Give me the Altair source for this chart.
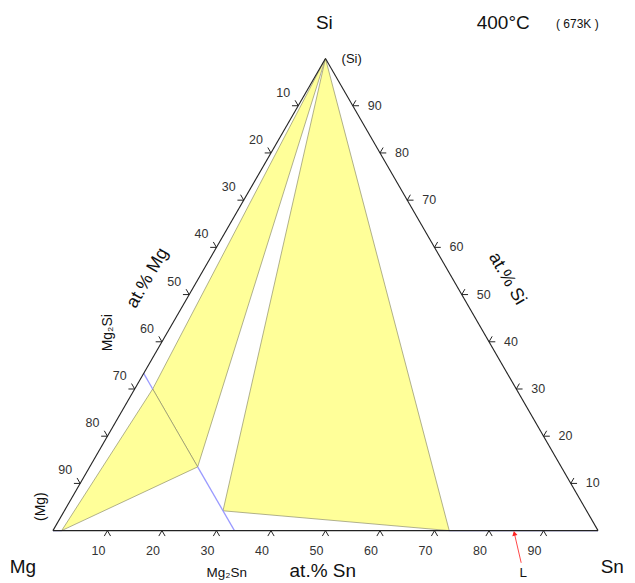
import math
import pandas as pd
import altair as alt

S3 = math.sqrt(3) / 2

def to_xy(sn, si):
    return sn + si / 2.0, si * S3

# ---- phase diagram data (at.% Sn, at.% Si) ----
poly_id = ["T1", "T1", "T1", "T2", "T2", "T2", "T3", "T3", "T3"]
poly_sn = [0.0, 3.3, 19.8, 1.6, 3.3, 19.8, 0.0, 29.1, 72.7]
poly_si = [100.0, 30.0, 13.5, 0.0, 30.0, 13.5, 100.0, 4.2, 0.0]

# single-phase lines (blue): start (sn, si) -> end (sn, si)
blue_sn1 = [0.0, 19.8, 0.0, 72.7]
blue_si1 = [33.3, 13.5, 0.0, 0.0]
blue_sn2 = [3.3, 33.3, 1.6, 100.0]
blue_si2 = [30.0, 0.0, 0.0, 0.0]

# triangle frame
frame_sn1 = [0.0, 0.0, 100.0]
frame_si1 = [0.0, 100.0, 0.0]
frame_sn2 = [0.0, 100.0, 0.0]
frame_si2 = [100.0, 0.0, 0.0]

tick_values = [10, 20, 30, 40, 50, 60, 70, 80, 90]

# ---- build tables ----
rows = []
for i, (p, sn, si) in enumerate(zip(poly_id, poly_sn, poly_si)):
    x, y = to_xy(sn, si)
    rows.append({"poly": p, "ord": i, "X": x, "Y": y})
poly_df = pd.DataFrame(rows)

def seg_df(sn1, si1, sn2, si2):
    r = []
    for a, b, c, d in zip(sn1, si1, sn2, si2):
        x1, y1 = to_xy(a, b)
        x2, y2 = to_xy(c, d)
        r.append({"X": x1, "Y": y1, "X2": x2, "Y2": y2})
    return pd.DataFrame(r)

frame_df = seg_df(frame_sn1, frame_si1, frame_sn2, frame_si2)
blue_df = seg_df(blue_sn1, blue_si1, blue_sn2, blue_si2)

TL = 1.15
tick_rows = []
lab_bottom, lab_left, lab_right = [], [], []
for v in tick_values:
    # bottom (at.% Sn)
    x, y = to_xy(v, 0)
    for dx, dy in [(-0.5, -S3), (0.5, -S3)]:
        tick_rows.append({"X": x, "Y": y, "X2": x + dx * TL, "Y2": y + dy * TL})
    lab_bottom.append({"X": x, "Y": y, "t": str(v)})
    # left (at.% Mg)
    x, y = to_xy(0, 100 - v)
    for dx, dy in [(-1.0, 0.0), (-0.5, S3)]:
        tick_rows.append({"X": x, "Y": y, "X2": x + dx * TL, "Y2": y + dy * TL})
    lab_left.append({"X": x, "Y": y, "t": str(v)})
    # right (at.% Si)
    x, y = to_xy(100 - v, v)
    for dx, dy in [(1.0, 0.0), (0.5, S3)]:
        tick_rows.append({"X": x, "Y": y, "X2": x + dx * TL, "Y2": y + dy * TL})
    lab_right.append({"X": x, "Y": y, "t": str(v)})
tick_df = pd.DataFrame(tick_rows)

# ---- scales ----
K = 5.46
W, H = 620, 575
xmin = -45 / K
xmax = xmin + W / K
ymax = 523 / K
ymin = ymax - H / K
xs = alt.Scale(domain=[xmin, xmax], nice=False, zero=False)
ys = alt.Scale(domain=[ymin, ymax], nice=False, zero=False)
X = lambda f="X": alt.X(f"{f}:Q", scale=xs, axis=None)
Y = lambda f="Y": alt.Y(f"{f}:Q", scale=ys, axis=None)

FONT = "Liberation Sans"

polys = alt.Chart(poly_df).mark_line(
    interpolate="linear-closed", fill="#ffff99", stroke="#8f8f6a", strokeWidth=0.7
).encode(x=X(), y=Y(), detail="poly:N", order="ord:Q")

frame = alt.Chart(frame_df).mark_rule(color="#222222", strokeWidth=1.1).encode(
    x=X(), y=Y(), x2="X2:Q", y2="Y2:Q")
blue = alt.Chart(blue_df).mark_rule(color="#9a9aff", strokeWidth=1.3).encode(
    x=X(), y=Y(), x2="X2:Q", y2="Y2:Q")
ticks = alt.Chart(tick_df).mark_rule(color="#222222", strokeWidth=1).encode(
    x=X(), y=Y(), x2="X2:Q", y2="Y2:Q")

def tl(rows_, dx, dy):
    return alt.Chart(pd.DataFrame(rows_)).mark_text(
        font=FONT, fontSize=12.5, color="#333333", dx=dx, dy=dy
    ).encode(x=X(), y=Y(), text="t:N")

lb = tl(lab_bottom, -9, 20)
ll = tl(lab_left, -15, -13)
lr = tl(lab_right, 22, 0)

# annotations (positions in plot units)
ann_text = ["Si", "400°C", "Mg", "Sn", "at.% Sn"]
ann_x = [49.8, 82.6, -5.5, 102.6, 49.5]
ann_y = [93.2, 93.2, -6.6, -6.6, -7.5]
ann_big = alt.Chart(pd.DataFrame({"X": ann_x, "Y": ann_y, "t": ann_text})).mark_text(
    font=FONT, fontSize=19, color="#111111").encode(x=X(), y=Y(), text="t:N")

sm_text = ["( 673K )", "(Si)", "Mg₂Sn", "L"]
sm_x = [96.2, 54.8, 31.9, 86.3]
sm_y = [92.9, 86.6, -7.7, -7.7]
sm_size = [12, 13, 13.5, 13.5]
ann_small = alt.Chart(pd.DataFrame({"X": sm_x, "Y": sm_y, "t": sm_text, "s": sm_size})).mark_text(
    font=FONT, color="#111111").encode(
    x=X(), y=Y(), text="t:N", size=alt.Size("s:Q", scale=None, legend=None))

rot_text = ["(Mg)", "Mg₂Si", "at.% Mg", "at.% Si"]
rot_x = [-2.2, 10.1, 17.4, 83.3]
rot_y = [4.4, 36.3, 46.3, 46.2]
rot_angle = [270, 270, 300, 60]
rot_size = [14, 14, 18, 18]
ann_rot = alt.Chart(pd.DataFrame({"X": rot_x, "Y": rot_y, "t": rot_text,
                                  "a": rot_angle, "s": rot_size})).mark_text(
    font=FONT, color="#111111").encode(
    x=X(), y=Y(), text="t:N", angle=alt.Angle("a:Q", scale=None),
    size=alt.Size("s:Q", scale=None, legend=None))

# red arrow pointing at the liquid
arrow_x1, arrow_y1 = [85.9], [-5.9]
arrow_x2, arrow_y2 = [84.65], [-0.5]
arr_df = pd.DataFrame({"X": arrow_x1, "Y": arrow_y1, "X2": arrow_x2, "Y2": arrow_y2})
arrow_line = alt.Chart(arr_df).mark_rule(color="#ff3333", strokeWidth=0.9).encode(
    x=X(), y=Y(), x2="X2:Q", y2="Y2:Q")
arrow_head = alt.Chart(pd.DataFrame({"X": arrow_x2, "Y": arrow_y2})).mark_point(
    shape="triangle-up", filled=True, color="#ff2222", size=28, angle=347, opacity=1
).encode(x=X(), y=Y())

chart = alt.layer(
    polys, blue, frame, ticks, lb, ll, lr, ann_big, ann_small, ann_rot, arrow_line, arrow_head
).properties(
    width=W, height=H, autosize=alt.AutoSizeParams(type="none"), padding=0
).configure_view(stroke=None)

chart.save("out.html", embed_options={"renderer": "svg", "actions": False})
